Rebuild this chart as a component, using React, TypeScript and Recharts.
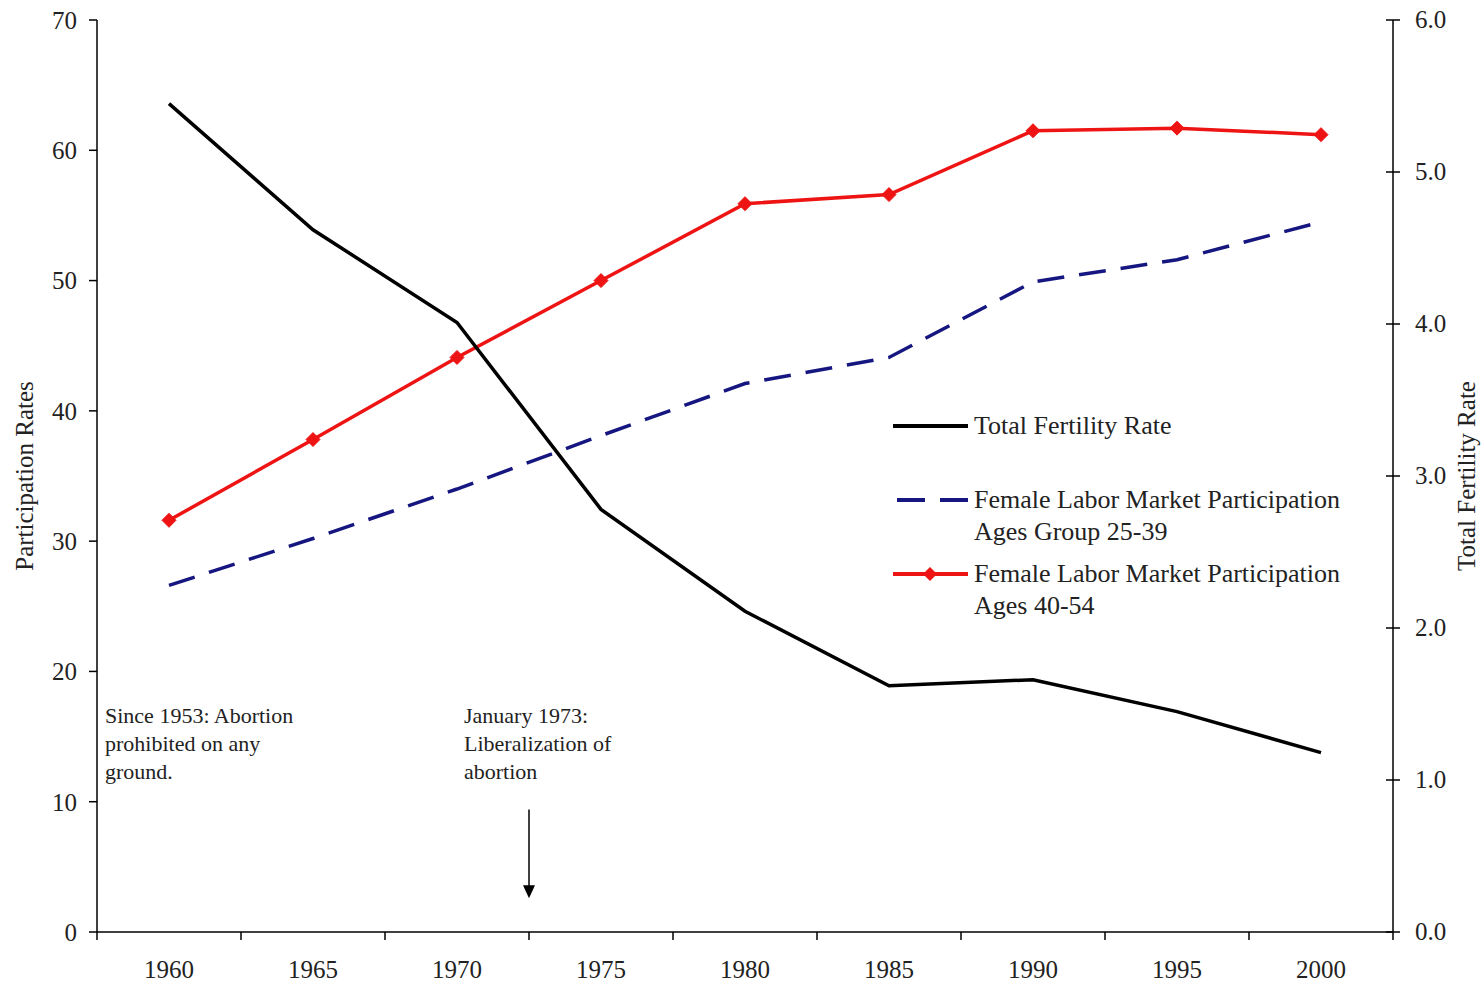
import { LineChart, Line, XAxis, YAxis, ReferenceLine, Label } from 'recharts'

const years = [1960, 1965, 1970, 1975, 1980, 1985, 1990, 1995, 2000]
const fertility = [5.45, 4.62, 4.01, 2.78, 2.11, 1.62, 1.66, 1.45, 1.18]
const participation2539 = [26.6, 30.2, 34.0, 38.1, 42.1, 44.1, 49.9, 51.6, 54.5]
const participation4054 = [31.6, 37.8, 44.1, 50.0, 55.9, 56.6, 61.5, 61.7, 61.2]

const leftTicks = [0, 10, 20, 30, 40, 50, 60, 70]
const rightTicks = [0, 1, 2, 3, 4, 5, 6]
// tick marks sit on the boundaries between the years
const yearBounds = [1957.5, 1962.5, 1967.5, 1972.5, 1977.5, 1982.5, 1987.5, 1992.5, 1997.5, 2002.5]

const legendItems = [
  { key: 'tfr', lines: ['Total Fertility Rate'] },
  { key: 'p2539', lines: ['Female Labor Market Participation', 'Ages Group 25-39'] },
  { key: 'p4054', lines: ['Female Labor Market Participation', 'Ages 40-54'] },
]

const notes = [
  { lines: ['Since 1953: Abortion', 'prohibited on any', 'ground.'], left: 105, top: 702 },
  { lines: ['January 1973:', 'Liberalization of', 'abortion'], left: 464, top: 702 },
]
const arrowYear = 1972.5

const FONT = '"Liberation Serif", "Times New Roman", serif'
const RED = '#ee1414'
const NAVY = '#161680'

const data = years.map((year, i) => ({
  year,
  tfr: fertility[i],
  p2539: participation2539[i],
  p4054: participation4054[i],
}))

const Diamond = (props: any) => {
  const { cx, cy } = props
  if (cx == null || cy == null) return null
  const r = 7
  return <polygon points={`${cx},${cy - r} ${cx + r},${cy} ${cx},${cy + r} ${cx - r},${cy}`} fill={RED} stroke={RED} />
}

const RightTick = (props: any) => {
  const { x, y, payload } = props
  // inner half of the crossing tick mark
  return (
    <g>
      <line x1={x - 22} y1={y} x2={x - 29} y2={y} stroke="#000" strokeWidth={1.5} />
      <text x={x} y={y} dy={8} fontSize={25} fontFamily={FONT} fill="#222">
        {payload.value.toFixed(1)}
      </text>
    </g>
  )
}

const LegendBox = () => (
  <div
    style={{
      position: 'absolute',
      left: 893,
      top: 410,
      fontFamily: FONT,
      fontSize: 26,
      color: '#222',
      lineHeight: '32px',
    }}
  >
    {legendItems.map((item, idx) => (
      <div key={item.key} style={{ display: 'flex', alignItems: 'flex-start', marginBottom: idx === 0 ? 42 : 10 }}>
        <svg width={81} height={32} style={{ flex: 'none' }}>
          {item.key === 'tfr' && <line x1={0} y1={16} x2={75} y2={16} stroke="#000" strokeWidth={4} />}
          {item.key === 'p2539' && (
            <line x1={4} y1={16} x2={75} y2={16} stroke={NAVY} strokeWidth={4} strokeDasharray="28 15" />
          )}
          {item.key === 'p4054' && (
            <g>
              <line x1={0} y1={16} x2={75} y2={16} stroke={RED} strokeWidth={4} />
              <polygon points="37,9 44,16 37,23 30,16" fill={RED} />
            </g>
          )}
        </svg>
        <div>
          {item.lines.map((l) => (
            <div key={l}>{l}</div>
          ))}
        </div>
      </div>
    ))}
  </div>
)

const Arrow = (props: any) => {
  const { x1, y1, x2, y2 } = props
  if (x1 == null) return null
  return (
    <g>
      <line x1={x1} y1={y1} x2={x2} y2={y2 - 12} stroke="#000" strokeWidth={1.5} />
      <polygon points={`${x2 - 6},${y2 - 13} ${x2 + 6},${y2 - 13} ${x2},${y2}`} fill="#000" />
    </g>
  )
}

export default function App() {
  return (
    <div style={{ position: 'absolute', left: 0, top: 0, width: 1482, height: 983, background: '#fff' }}>
      <LineChart width={1482} height={983} data={data} margin={{ top: 20, right: 0, left: 0, bottom: 0 }}>
        <XAxis
          xAxisId="marks"
          dataKey="year"
          type="number"
          domain={[1957.5, 2002.5]}
          ticks={yearBounds}
          height={1}
          tickFormatter={() => ''}
          tickSize={8}
          stroke="#000"
          axisLine={{ stroke: '#000', strokeWidth: 1.5 }}
          tickLine={{ stroke: '#000', strokeWidth: 1.5 }}
        />
        <XAxis
          xAxisId="years"
          dataKey="year"
          type="number"
          domain={[1957.5, 2002.5]}
          ticks={years}
          height={50}
          axisLine={false}
          tickLine={false}
          tickMargin={21}
          tick={{ fontSize: 25, fontFamily: FONT, fill: '#222' }}
        />
        <YAxis
          yAxisId="left"
          domain={[0, 70]}
          ticks={leftTicks}
          width={97}
          tickSize={8}
          tickMargin={12}
          axisLine={{ stroke: '#000', strokeWidth: 1.5 }}
          tickLine={{ stroke: '#000', strokeWidth: 1.5 }}
          tick={{ fontSize: 25, fontFamily: FONT, fill: '#222' }}
        >
          <Label
            content={({ viewBox }: any) => {
              const cx = viewBox.x + 24
              const cy = viewBox.y + viewBox.height / 2
              return (
                <text x={cx} y={cy} transform={`rotate(-90 ${cx} ${cy})`} textAnchor="middle" dominantBaseline="central" fontSize={25} fontFamily={FONT} fill="#222">
                  Participation Rates
                </text>
              )
            }}
          />
        </YAxis>
        <YAxis
          yAxisId="right"
          orientation="right"
          domain={[0, 6]}
          ticks={rightTicks}
          width={89}
          tickSize={7}
          tickMargin={15}
          axisLine={{ stroke: '#000', strokeWidth: 1.5 }}
          tickLine={{ stroke: '#000', strokeWidth: 1.5 }}
          tick={<RightTick />}
        >
          <Label
            content={({ viewBox }: any) => {
              const cx = viewBox.x + 73
              const cy = viewBox.y + viewBox.height / 2
              return (
                <text x={cx} y={cy} transform={`rotate(-90 ${cx} ${cy})`} textAnchor="middle" dominantBaseline="central" fontSize={25} fontFamily={FONT} fill="#222">
                  Total Fertility Rate
                </text>
              )
            }}
          />
        </YAxis>
        <Line
          xAxisId="years"
          yAxisId="left"
          dataKey="p2539"
          stroke={NAVY}
          strokeWidth={3.5}
          strokeDasharray="27 15"
          dot={false}
          isAnimationActive={false}
        />
        <Line
          xAxisId="years"
          yAxisId="left"
          dataKey="p4054"
          stroke={RED}
          strokeWidth={3.5}
          dot={<Diamond />}
          isAnimationActive={false}
        />
        <Line
          xAxisId="years"
          yAxisId="right"
          dataKey="tfr"
          stroke="#000"
          strokeWidth={3.5}
          dot={false}
          isAnimationActive={false}
        />
        <ReferenceLine
          xAxisId="years"
          yAxisId="left"
          segment={[
            { x: arrowYear, y: 9.4 },
            { x: arrowYear, y: 2.6 },
          ]}
          shape={<Arrow />}
        />
      </LineChart>
      <LegendBox />
      {notes.map((n) => (
        <div
          key={n.lines[0]}
          style={{ position: 'absolute', left: n.left, top: n.top, fontFamily: FONT, fontSize: 22, lineHeight: '28px', color: '#222' }}
        >
          {n.lines.map((l) => (
            <div key={l}>{l}</div>
          ))}
        </div>
      ))}
    </div>
  )
}
